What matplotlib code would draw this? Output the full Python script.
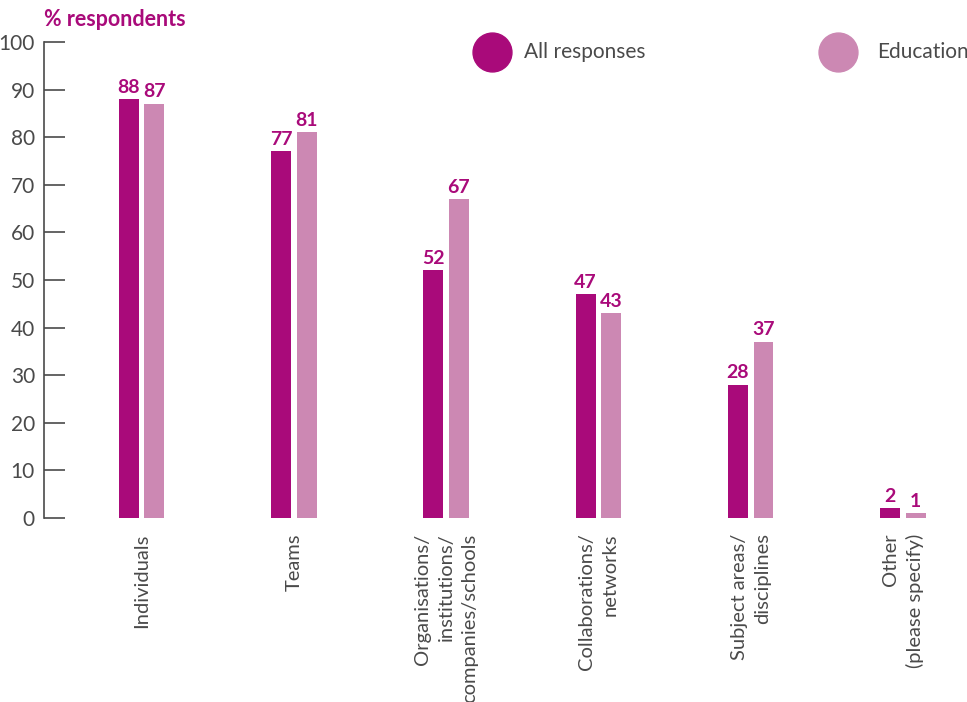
import matplotlib
matplotlib.use("Agg")
import matplotlib.pyplot as plt
import numpy as np
from matplotlib.lines import Line2D

categories = [
    "Individuals",
    "Teams",
    "Organisations/\ninstitutions/\ncompanies/schools",
    "Collaborations/\nnetworks",
    "Subject areas/\ndisciplines",
    "Other\n(please specify)",
]
all_responses = [88, 77, 52, 47, 28, 2]
education = [87, 81, 67, 43, 37, 1]
series_names = ["All responses", "Education"]
y_ticks = [0, 10, 20, 30, 40, 50, 60, 70, 80, 90, 100]

DARK = "#A90A7A"
LIGHT = "#CC88B3"
GREY = "#4A4A4A"
FONT = "Lato"

plt.rcParams["font.family"] = [FONT, "DejaVu Sans"]

fig = plt.figure(figsize=(9.67, 7.02), dpi=100)
ax = fig.add_axes([44 / 967, 1 - 518 / 702, (960 - 44) / 967, (518 - 42) / 702])

x = np.arange(len(categories))
w = 0.131
off = 0.084
b1 = ax.bar(x - off, all_responses, width=w, color=DARK)
b2 = ax.bar(x + off, education, width=w, color=LIGHT)

for bars, vals in ((b1, all_responses), (b2, education)):
    for rect, v in zip(bars, vals):
        ax.annotate(f"{v}", (rect.get_x() + rect.get_width() / 2, v),
                    xytext=(0, 2.5), textcoords="offset points",
                    ha="center", va="bottom", color=DARK,
                    fontsize=14, fontweight="bold", family=FONT)

ax.set_xlim(-0.640, 5.374)
ax.set_ylim(0, 100)
ax.set_yticks(y_ticks)
ax.set_yticklabels([str(t) for t in y_ticks], fontsize=15, color=GREY)
ax.tick_params(axis="y", direction="in", length=15, width=1.2,
               color=GREY, pad=6.5)
ax.set_xticks([])
for s in ("top", "right", "bottom"):
    ax.spines[s].set_visible(False)
ax.spines["left"].set_color(GREY)
ax.spines["left"].set_linewidth(1.2)

for xi, lab in zip(x, categories):
    ax.annotate(lab, (xi, 0), xytext=(0, -11), textcoords="offset points",
                rotation=90, ha="center", va="top", multialignment="right",
                fontsize=14.5, color=GREY, linespacing=1.45,
                annotation_clip=False)

fig.text(44 / 967, 1 - 19 / 702, "% respondents", color=DARK, fontsize=15.5,
         fontweight="bold", va="center", ha="left")

# Legend: filled circles with series names
legend_y = 1 - 52 / 702
for cx, tx, color, name in ((492, 524, DARK, series_names[0]),
                            (838, 877, LIGHT, series_names[1])):
    fig.add_artist(Line2D([cx / 967], [legend_y], transform=fig.transFigure,
                          linestyle="none", marker="o", markersize=28,
                          markerfacecolor=color, markeredgecolor=color))
    fig.text(tx / 967, legend_y, name, color=GREY, fontsize=15,
             ha="left", va="center")

fig.savefig("out.png", dpi=100, facecolor="white")
